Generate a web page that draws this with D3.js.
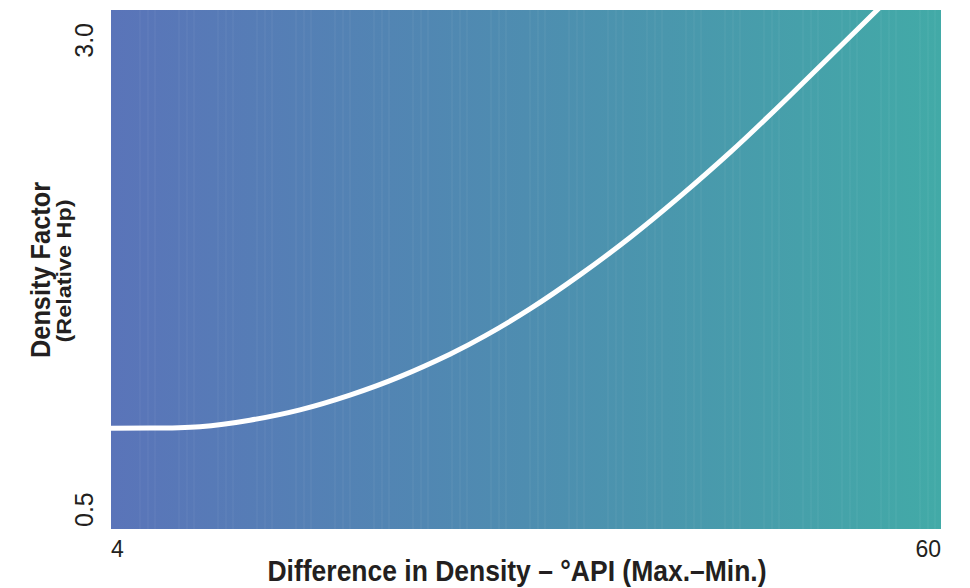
<!DOCTYPE html>
<html>
<head>
<meta charset="utf-8">
<script src="https://cdn.jsdelivr.net/npm/d3@7"></script>
<style>
  body { margin: 0; background: #fff; }
  text { fill: #231f20; }
</style>
</head>
<body>
<div id="canvas"></div>
<script>
// curve: API difference vs density factor
const apiDiff = [4, 6.63, 10, 13.37, 16.75, 20.12, 23.5, 26.87, 29.23, 32.27, 35.64, 39.02, 42.39, 45.77, 49.61, 55.68, 57.91]
const densityFactor = [0.985, 0.986, 0.993, 1.024, 1.074, 1.145, 1.234, 1.342, 1.43, 1.56, 1.724, 1.904, 2.102, 2.314, 2.574, 2.999, 3.157]
const xTicks = [4, 60]
const yTicks = [0.5, 3.0]

const width = 970
const height = 588
const margin = { top: 10, left: 111, bottom: 59, right: 29 }
const iwidth = width - margin.left - margin.right
const iheight = height - margin.top - margin.bottom

const svg = d3.select('#canvas').append('svg')
  .attr('width', width)
  .attr('height', height)

const defs = svg.append('defs')
const grad = defs.append('linearGradient')
  .attr('id', 'bg')
  .attr('x1', '0%').attr('x2', '100%')
  .attr('y1', '0%').attr('y2', '0%')
grad.append('stop').attr('offset', '0%').attr('stop-color', '#5a74b9')
grad.append('stop').attr('offset', '50%').attr('stop-color', '#4e8db0')
grad.append('stop').attr('offset', '100%').attr('stop-color', '#42aaa7')

defs.append('clipPath').attr('id', 'clip')
  .append('rect').attr('width', iwidth).attr('height', iheight)

const g = svg.append('g')
  .attr('transform', `translate(${margin.left},${margin.top})`)

const x = d3.scaleLinear().domain([4, 60]).range([0, iwidth])
const y = d3.scaleLinear().domain([0.5, 3.0]).range([iheight, 0])

// background band
g.append('rect')
  .attr('width', iwidth)
  .attr('height', iheight)
  .attr('fill', 'url(#bg)')

// faint banding stripes
const stripes = []
for (let s = 29; s < iwidth; s += 39) {
  stripes.push(s, s + 8, s + 15)
}
g.append('g').selectAll('line').data(stripes.filter((d) => d < iwidth))
  .enter().append('line')
  .attr('x1', (d) => d).attr('x2', (d) => d)
  .attr('y1', 0).attr('y2', iheight)
  .attr('stroke', '#fff')
  .attr('stroke-opacity', 0.07)
  .attr('stroke-width', 1)

// the curve
const pts = apiDiff.map((d, i) => [d, densityFactor[i]])
const line = d3.line()
  .x((d) => x(d[0]))
  .y((d) => y(d[1]))
  .curve(d3.curveNatural)

g.append('path')
  .datum(pts)
  .attr('clip-path', 'url(#clip)')
  .attr('d', line)
  .attr('fill', 'none')
  .attr('stroke', '#fff')
  .attr('stroke-width', 5)

// x tick labels
g.selectAll('.xtick').data(xTicks).enter().append('text')
  .attr('class', 'xtick')
  .attr('x', (d) => x(d))
  .attr('y', iheight + 28)
  .attr('text-anchor', (d, i) => (i === 0 ? 'start' : 'end'))
  .style('font-family', '"Liberation Sans", Arial, sans-serif')
  .style('font-size', '23px')
  .text((d) => d)

// y tick labels (rotated)
g.selectAll('.ytick').data(yTicks).enter().append('text')
  .attr('class', 'ytick')
  .attr('transform', (d) => `translate(-18,${d === 3.0 ? y(d) + 13 : y(d) - 2}) rotate(-90)`)
  .attr('text-anchor', (d, i) => (i === 0 ? 'start' : 'end'))
  .style('font-family', '"Liberation Sans", Arial, sans-serif')
  .style('font-size', '25px')
  .text((d) => d.toFixed(1))

// x title
svg.append('text')
  .attr('x', 517)
  .attr('y', 581)
  .attr('text-anchor', 'middle')
  .attr('textLength', 499)
  .attr('lengthAdjust', 'spacingAndGlyphs')
  .style('font-family', '"Liberation Sans", Arial, sans-serif')
  .style('font-weight', 'bold')
  .style('font-size', '29px')
  .text('Difference in Density – °API (Max.–Min.)')

// y title
svg.append('text')
  .attr('transform', 'translate(50,270) rotate(-90)')
  .attr('text-anchor', 'middle')
  .attr('textLength', 176)
  .attr('lengthAdjust', 'spacingAndGlyphs')
  .style('font-family', '"Liberation Sans", Arial, sans-serif')
  .style('font-weight', 'bold')
  .style('font-size', '28px')
  .text('Density Factor')

svg.append('text')
  .attr('transform', 'translate(71,271) rotate(-90)')
  .attr('text-anchor', 'middle')
  .attr('textLength', 143)
  .attr('lengthAdjust', 'spacingAndGlyphs')
  .style('font-family', '"Liberation Sans", Arial, sans-serif')
  .style('font-weight', 'bold')
  .style('font-size', '21px')
  .text('(Relative Hp)')
</script>
</body>
</html>
